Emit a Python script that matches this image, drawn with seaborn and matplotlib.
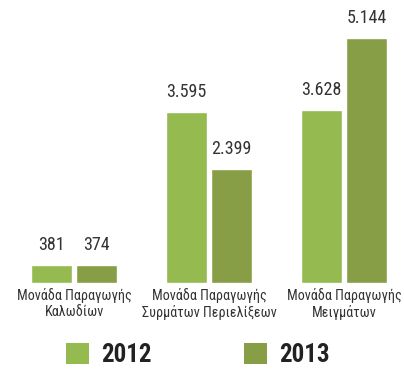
import matplotlib
matplotlib.use("Agg")
import matplotlib.pyplot as plt
from matplotlib import font_manager
from matplotlib.patches import Patch
import seaborn as sns
import pandas as pd

categories = ["Μονάδα Παραγωγής\nΚαλωδίων",
              "Μονάδα Παραγωγής\nΣυρμάτων Περιελίξεων",
              "Μονάδα Παραγωγής\nΜειγμάτων"]
years = ["2012", "2013"]
values_2012 = [381, 3595, 3628]
values_2013 = [374, 2399, 5144]
value_labels_2012 = ["381", "3.595", "3.628"]
value_labels_2013 = ["374", "2.399", "5.144"]
colors = ["#95BA50", "#879E47"]

sns.set_theme(style="white")

installed = {f.name for f in font_manager.fontManager.ttflist}
family = next((n for n in ["Liberation Sans Narrow", "DejaVu Sans Condensed",
                           "Roboto Condensed", "Open Sans Condensed", "Liberation Sans"]
               if n in installed), "DejaVu Sans")
plt.rcParams["font.family"] = [family, "DejaVu Sans"]
text_color = "#333333"

df = pd.DataFrame({
    "category": categories * 2,
    "year": [years[0]] * 3 + [years[1]] * 3,
    "value": values_2012 + values_2013,
})

W, H = 404, 369
fig = plt.figure(figsize=(W / 100, H / 100), dpi=100)
base = 283
ax = fig.add_axes([0, 1 - base / H, 1, base / H])

sns.barplot(data=df, x="category", y="value", hue="year", palette=colors,
            width=0.667, gap=0.09, saturation=1, legend=False, ax=ax)

px_per_cat = 135.0
left_center = 74.0
ax.set_xlim(-left_center / px_per_cat, (W - left_center) / px_per_cat)
px_per_val = 245.0 / 5144
ax.set_ylim(0, base / px_per_val)

for container, labs in zip(ax.containers, [value_labels_2012, value_labels_2013]):
    ax.bar_label(container, labels=labs, padding=8, fontsize=13,
                 color=text_color)

ax.set_axis_off()

for i, cat in enumerate(categories):
    xf = (left_center + i * px_per_cat) / W
    fig.text(xf, 1 - 288 / H, cat, ha="center", va="top", fontsize=10.2,
             color=text_color, linespacing=1.2)

handles = [Patch(facecolor=c, edgecolor="none") for c in colors]
leg = fig.legend(handles, years, loc="lower center", ncol=2,
                 bbox_to_anchor=(0.49, -0.022), frameon=False,
                 prop={"size": 18, "weight": "bold"},
                 handlelength=0.9, handleheight=0.9, handletextpad=0.5,
                 columnspacing=3.7, borderaxespad=0)
for t in leg.get_texts():
    t.set_color("#222222")

fig.savefig("out.png", dpi=100)
